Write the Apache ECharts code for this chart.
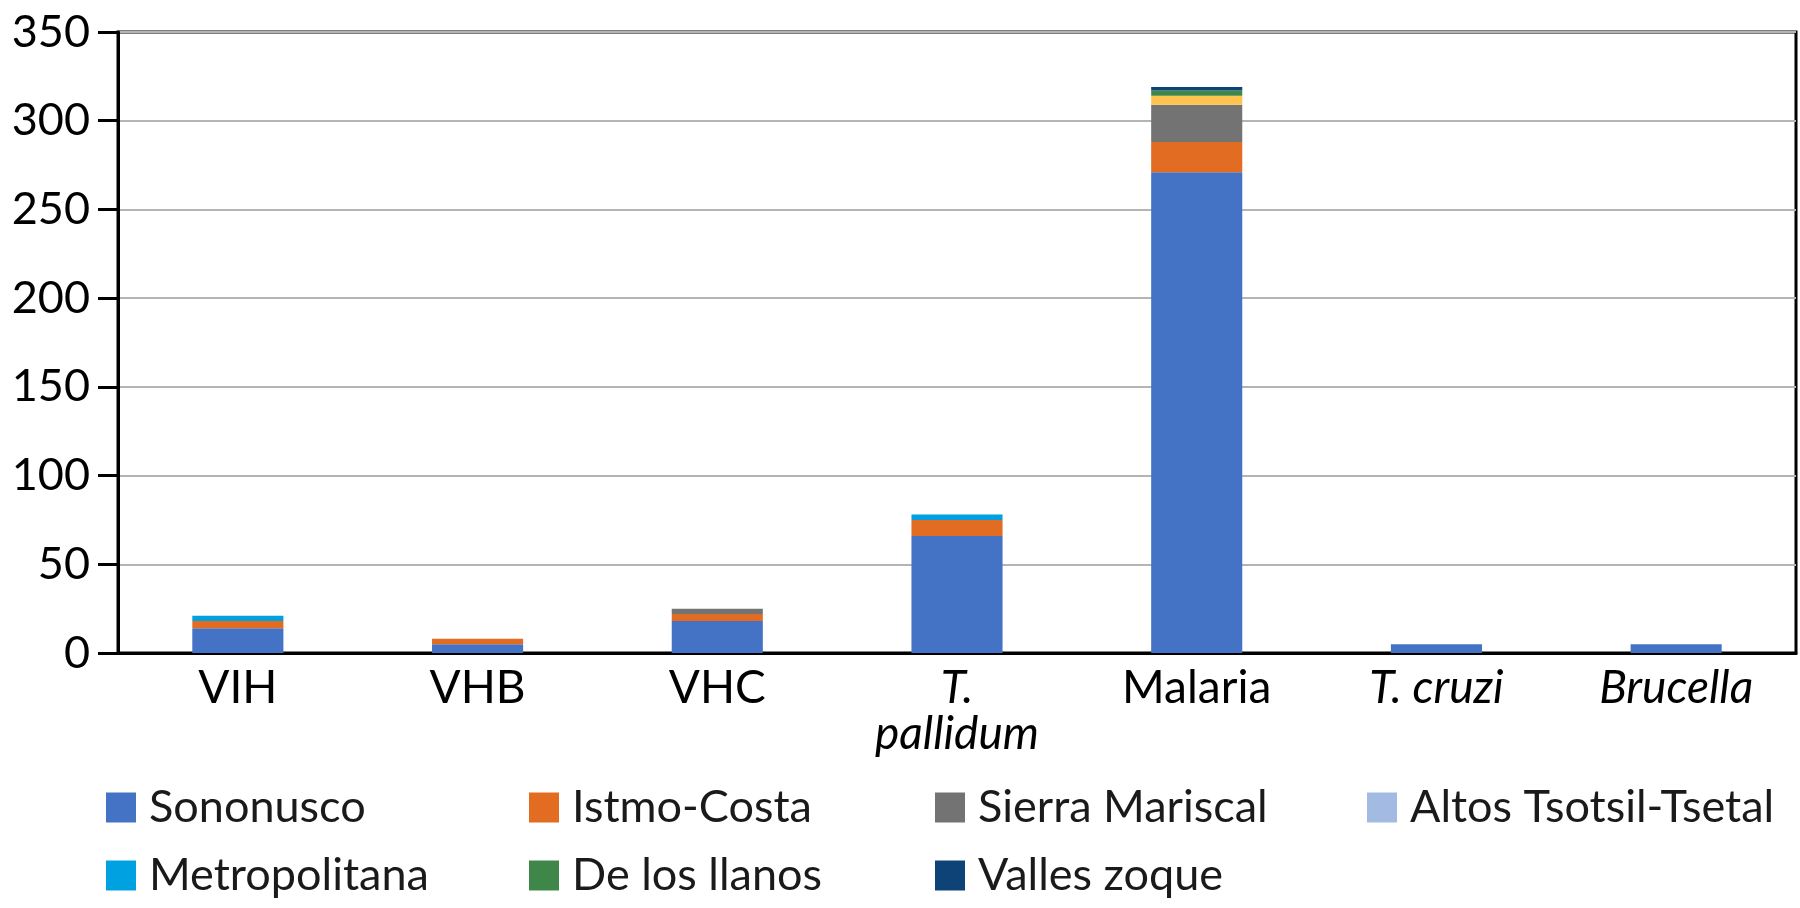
<!DOCTYPE html>
<html>
<head>
<meta charset="utf-8">
<script src="https://cdn.jsdelivr.net/npm/echarts@6/dist/echarts.min.js"></script>
<style>
html,body{margin:0;padding:0;background:#fff;}
#chart{width:1800px;height:908px;}
</style>
</head>
<body>
<div id="chart"></div>
<script>
var categories = ['VIH', 'VHB', 'VHC', 'T. pallidum', 'Malaria', 'T. cruzi', 'Brucella'];
var italicCategories = ['T. pallidum', 'T. cruzi', 'Brucella'];
var yTicks = [0, 50, 100, 150, 200, 250, 300, 350];

var sononusco      = [14, 5, 18, 66, 271, 5, 5];
var istmoCosta     = [4, 3, 4, 9, 17, 0, 0];
var sierraMariscal = [0, 0, 3, 0, 21, 0, 0];
var otra           = [0, 0, 0, 0, 5, 0, 0];
var altos          = [0, 0, 0, 0, 0, 0, 0];
var metropolitana  = [3, 0, 0, 3, 0, 0, 0];
var deLosLlanos    = [0, 0, 0, 0, 3, 0, 0];
var vallesZoque    = [0, 0, 0, 0, 2, 0, 0];

var seriesDefs = [
  ['Sononusco', sononusco, '#4472C4'],
  ['Istmo-Costa', istmoCosta, '#E36C23'],
  ['Sierra Mariscal', sierraMariscal, '#737373'],
  ['Otra', otra, '#FFC44D'],
  ['Altos Tsotsil-Tsetal', altos, '#A3BBE2'],
  ['Metropolitana', metropolitana, '#00A1E0'],
  ['De los llanos', deLosLlanos, '#3F8649'],
  ['Valles zoque', vallesZoque, '#0E4377']
];

var FONT = 'Lato';
var chart = echarts.init(document.getElementById('chart'));

var legendPos = {
  'Sononusco': [101, 780],
  'Istmo-Costa': [524, 780],
  'Sierra Mariscal': [930, 780],
  'Altos Tsotsil-Tsetal': [1362, 780],
  'Metropolitana': [101, 848],
  'De los llanos': [524, 848],
  'Valles zoque': [930, 848]
};
var legends = Object.keys(legendPos).map(function (n) {
  return {
    data: [n],
    left: legendPos[n][0],
    top: legendPos[n][1],
    itemWidth: 30,
    itemHeight: 30,
    itemGap: 0,
    icon: 'rect',
    selectedMode: false,
    textStyle: { fontFamily: FONT, fontSize: 45, color: '#1a1a1a', padding: [0, 0, 0, 8] }
  };
});

chart.setOption({
  animation: false,
  backgroundColor: '#fff',
  legend: legends,
  grid: {
    left: 118, right: 4, top: 32, bottom: 255,
    show: true, borderColor: '#000', borderWidth: 3, containLabel: false
  },
  xAxis: {
    type: 'category',
    data: categories,
    axisLine: { lineStyle: { color: '#000', width: 3 } },
    axisTick: { show: false },
    axisLabel: {
      margin: 12,
      interval: 0,
      lineHeight: 46,
      fontFamily: FONT,
      fontSize: 46,
      color: '#000',
      formatter: function (v) {
        if (v === 'T. pallidum') return '{i|T.}\n{i|pallidum}';
        if (italicCategories.indexOf(v) >= 0) return '{i|' + v + '}';
        return v;
      },
      rich: { i: { fontStyle: 'italic', fontFamily: FONT, fontSize: 46, color: '#000', lineHeight: 46 } }
    }
  },
  yAxis: {
    type: 'value',
    min: yTicks[0],
    max: yTicks[yTicks.length - 1],
    interval: 50,
    axisLine: { show: true, lineStyle: { color: '#000', width: 3 } },
    axisTick: { show: true, length: 20, lineStyle: { color: '#000', width: 3 } },
    axisLabel: { margin: 28, fontFamily: FONT, fontSize: 45, color: '#000' },
    splitLine: { lineStyle: { color: '#b4b4b4', width: 2 } }
  },
  series: seriesDefs.map(function (d) {
    return {
      name: d[0],
      type: 'bar',
      stack: 'total',
      data: d[1],
      barWidth: '38%',
      itemStyle: { color: d[2] }
    };
  })
});
</script>
</body>
</html>
